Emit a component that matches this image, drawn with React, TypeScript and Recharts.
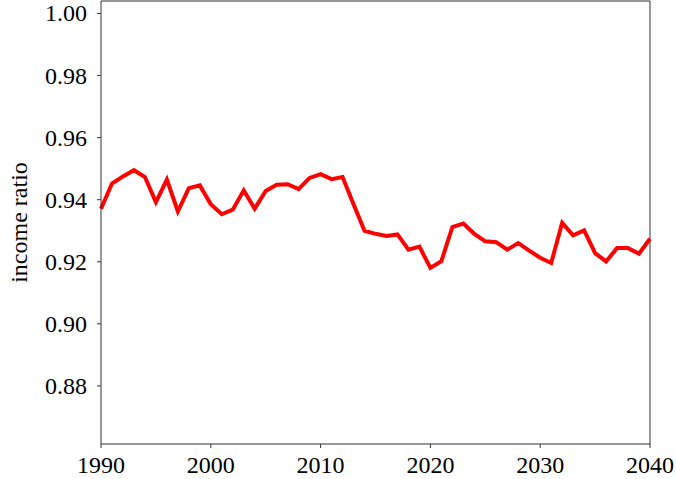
import { LineChart, Line, XAxis, YAxis, ReferenceLine } from "recharts";

const YEARS = [
  1990, 1991, 1992, 1993, 1994, 1995, 1996, 1997, 1998, 1999,
  2000, 2001, 2002, 2003, 2004, 2005, 2006, 2007, 2008, 2009,
  2010, 2011, 2012, 2013, 2014, 2015, 2016, 2017, 2018, 2019,
  2020, 2021, 2022, 2023, 2024, 2025, 2026, 2027, 2028, 2029,
  2030, 2031, 2032, 2033, 2034, 2035, 2036, 2037, 2038, 2039, 2040,
];

const RATIO = [
  0.9371, 0.9452, 0.9475, 0.9495, 0.9473, 0.9392, 0.9465, 0.9362, 0.9437, 0.9446,
  0.9385, 0.9353, 0.9368, 0.943, 0.9371, 0.9428, 0.9448, 0.945, 0.9434, 0.947,
  0.9482, 0.9466, 0.9473, 0.9385, 0.93, 0.929, 0.9283, 0.9288, 0.9239, 0.9249,
  0.918, 0.9202, 0.9312, 0.9323, 0.929, 0.9266, 0.9263, 0.9239, 0.926, 0.9236,
  0.9213, 0.9196, 0.9325, 0.9285, 0.9301, 0.9228, 0.9201, 0.9244, 0.9244, 0.9226,
  0.9274,
];

const X_TICKS = [1990, 2000, 2010, 2020, 2030, 2040];
const Y_TICKS = [0.88, 0.9, 0.92, 0.94, 0.96, 0.98, 1.0];
const Y_DOMAIN: [number, number] = [0.8613, 1.004];

const FONT = "Liberation Serif, serif";
const AXIS = "#333";

function XTick(props: any) {
  const { x, y, payload } = props;
  return (
    <text x={x} y={y + 23} textAnchor="middle" fill="#000" fontSize={24} fontFamily={FONT}>
      {payload.value}
    </text>
  );
}

function YTick(props: any) {
  const { x, y, payload } = props;
  return (
    <text x={x - 8} y={y + 8} textAnchor="end" fill="#000" fontSize={24} fontFamily={FONT}>
      {Number(payload.value).toFixed(2)}
    </text>
  );
}

export default function App() {
  const data = YEARS.map((year, i) => ({ year, ratio: RATIO[i] }));

  return (
    <div style={{ position: "absolute", left: 0, top: 0, background: "#fff" }}>
      <LineChart
        width={676}
        height={479}
        data={data}
        margin={{ top: 1, right: 26, bottom: 0, left: 0 }}
      >
        <XAxis
          dataKey="year"
          type="number"
          domain={[1990, 2040]}
          ticks={X_TICKS}
          height={35}
          stroke={AXIS}
          tickSize={4}
          tick={<XTick />}
        />
        <YAxis
          type="number"
          domain={Y_DOMAIN}
          allowDataOverflow
          ticks={Y_TICKS}
          width={101}
          stroke={AXIS}
          tickSize={4}
          tick={<YTick />}
          label={{
            value: "income ratio",
            angle: -90,
            position: "insideLeft",
            dx: 13,
            fontFamily: FONT,
            fontSize: 24,
            fill: "#000",
            style: { textAnchor: "middle", fontFamily: FONT },
          }}
        />
        {/* frame: top and right spines */}
        <ReferenceLine y={Y_DOMAIN[1]} stroke={AXIS} ifOverflow="extendDomain" />
        <ReferenceLine x={2040} stroke={AXIS} />
        <Line
          dataKey="ratio"
          stroke="#ff0000"
          strokeWidth={4}
          dot={false}
          strokeLinejoin="miter"
          isAnimationActive={false}
        />
      </LineChart>
    </div>
  );
}
